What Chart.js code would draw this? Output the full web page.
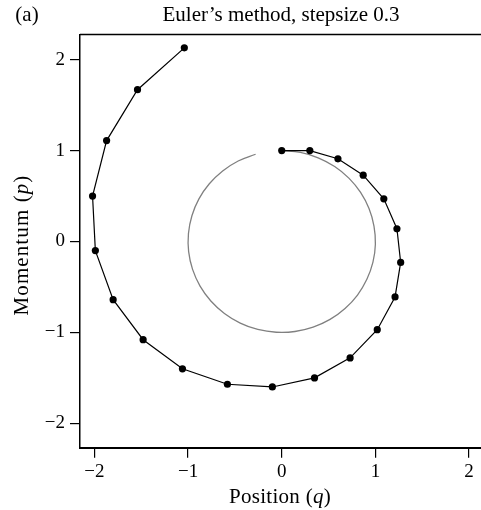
<!DOCTYPE html>
<html>
<head>
<meta charset="utf-8">
<style>
  html, body { margin: 0; padding: 0; background: #fff; }
  canvas { display: block; }
</style>
<script src="https://cdn.jsdelivr.net/npm/chart.js@4/dist/chart.umd.min.js"></script>
</head>
<body>
<canvas id="mychart" width="481" height="510"></canvas>
<script>
// Euler steps (q, p), stepsize 0.3
const eulerQ = [0, 0.30, 0.60, 0.87, 1.09, 1.23, 1.27, 1.21, 1.02, 0.73, 0.35,
  -0.10, -0.58, -1.06, -1.48, -1.80, -1.99, -2.02, -1.87, -1.54, -1.04];
const eulerP = [1, 1.00, 0.91, 0.73, 0.47, 0.14, -0.23, -0.61, -0.97, -1.28, -1.50,
  -1.60, -1.57, -1.40, -1.08, -0.64, -0.10, 0.50, 1.11, 1.67, 2.13];

// exact trajectory (grey arc)
const exactQ = [0, 0.199, 0.389, 0.565, 0.717, 0.842, 0.932, 0.985, 1.000, 0.974, 0.909,
  0.809, 0.676, 0.516, 0.335, 0.141, -0.058, -0.256, -0.443, -0.612, -0.757,
  -0.872, -0.952, -0.994, -0.996, -0.959, -0.884, -0.773, -0.631, -0.465, -0.279];
const exactP = [1, 0.980, 0.921, 0.825, 0.697, 0.540, 0.362, 0.170, -0.029, -0.227, -0.416,
  -0.589, -0.737, -0.857, -0.942, -0.990, -0.998, -0.967, -0.897, -0.791, -0.654,
  -0.490, -0.307, -0.112, 0.088, 0.284, 0.469, 0.635, 0.776, 0.886, 0.960];

const tickVals = [-2, -1, 0, 1, 2];

const FONT = '"Liberation Serif", "DejaVu Serif", serif';

const toPts = (xs, ys) => xs.map((x, i) => ({ x: x, y: ys[i] }));
const minus = v => String(v).replace('-', '\u2212');

// draw a string made of [text, italic] parts, centred at x
function drawParts(ctx, parts, x, y, size, spacing) {
  ctx.letterSpacing = (spacing || 0) + 'px';
  let w = 0;
  parts.forEach(p => {
    ctx.font = (p[1] ? 'italic ' : '') + size + 'px ' + FONT;
    w += ctx.measureText(p[0]).width;
  });
  let cx = x - w / 2;
  parts.forEach(p => {
    ctx.font = (p[1] ? 'italic ' : '') + size + 'px ' + FONT;
    ctx.fillText(p[0], cx, y);
    cx += ctx.measureText(p[0]).width;
  });
  ctx.letterSpacing = '0px';
}

const labelsPlugin = {
  id: 'labels',
  afterDraw(chart) {
    const ctx = chart.ctx;
    const a = chart.chartArea;
    ctx.save();
    // frame lines run on to the right edge of the page
    ctx.strokeStyle = '#000';
    ctx.lineWidth = 1.5;
    ctx.beginPath();
    ctx.moveTo(a.left, a.top);
    ctx.lineTo(481, a.top);
    ctx.stroke();
    ctx.lineWidth = 2;
    ctx.beginPath();
    ctx.moveTo(a.right - 2, Math.round(a.bottom));
    ctx.lineTo(481, Math.round(a.bottom));
    ctx.stroke();

    ctx.fillStyle = '#000';
    ctx.textBaseline = 'middle';
    ctx.textAlign = 'left';
    drawParts(ctx, [['(a)', false]], 27, 15, 21, 0);
    drawParts(ctx, [['Euler\u2019s method, stepsize 0.3', false]], 281, 15, 21, 0);
    drawParts(ctx, [['Position (', false], ['q', true], [')', false]], 280, 497, 21, 0.3);

    ctx.translate(22, 245);
    ctx.rotate(-Math.PI / 2);
    drawParts(ctx, [['Momentum (', false], ['p', true], [')', false]], 0, 0, 21, 1.1);
    ctx.restore();
  }
};

new Chart(document.getElementById('mychart').getContext('2d'), {
  type: 'scatter',
  data: {
    datasets: [
      {
        label: 'euler',
        data: toPts(eulerQ, eulerP),
        showLine: true,
        borderColor: '#000',
        borderWidth: 1.2,
        backgroundColor: '#000',
        pointRadius: 3.6,
        pointBorderWidth: 0,
        order: 0
      },
      {
        label: 'exact',
        data: toPts(exactQ, exactP),
        showLine: true,
        borderColor: '#808080',
        borderWidth: 1.3,
        pointRadius: 0,
        tension: 0.4,
        order: 1
      }
    ]
  },
  options: {
    responsive: false,
    animation: false,
    devicePixelRatio: 1,
    layout: { padding: { top: 34.5, left: 0, right: 0, bottom: 0 } },
    plugins: { legend: { display: false }, tooltip: { enabled: false }, title: { display: false } },
    scales: {
      x: {
        type: 'linear',
        min: -2.154,
        max: 2.085,
        afterBuildTicks: s => { s.ticks = tickVals.map(v => ({ value: v })); },
        afterFit: s => { s.height = 62.3; },
        border: { display: true, color: '#000', width: 2 },
        grid: { drawOnChartArea: false, drawTicks: true, tickLength: 10, color: '#000', lineWidth: 1.2 },
        ticks: { color: '#000', padding: 3, font: { family: FONT, size: 19 }, callback: minus, maxRotation: 0 }
      },
      y: {
        type: 'linear',
        min: -2.268,
        max: 2.277,
        afterBuildTicks: s => { s.ticks = tickVals.map(v => ({ value: v })); },
        afterFit: s => { s.width = 80; },
        border: { display: true, color: '#000', width: 1.5 },
        grid: { drawOnChartArea: false, drawTicks: true, tickLength: 10, color: '#000', lineWidth: 1.2 },
        ticks: { color: '#000', padding: 5, font: { family: FONT, size: 19 }, callback: minus }
      }
    }
  },
  plugins: [labelsPlugin]
});
</script>
</body>
</html>
